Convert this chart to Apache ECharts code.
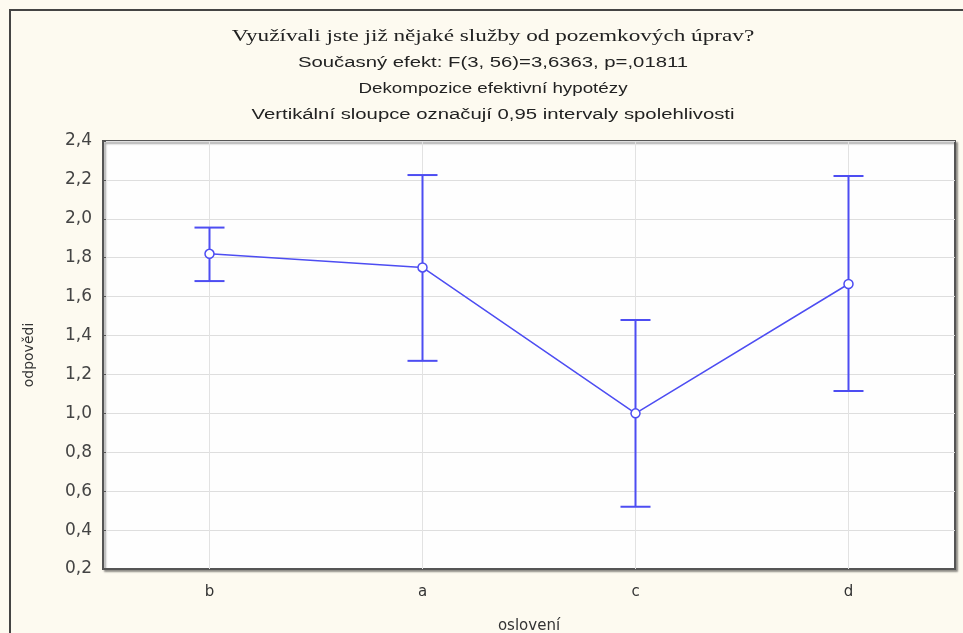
<!DOCTYPE html>
<html>
<head>
    <meta charset="utf-8">
    <title>ECharts</title>
    <script src="https://cdn.jsdelivr.net/npm/echarts@6/dist/echarts.min.js"></script>
    <style>
        html, body { margin: 0; padding: 0; background: #fdfaf0; }
    </style>
</head>
<body>
<div id="main" style="width: 963px;height:633px;"></div>
<script type="text/javascript">
    // data
    var categories = ['b', 'a', 'c', 'd'];
    var means = [1.82, 1.75, 1.00, 1.665];
    var lower = [1.68, 1.27, 0.52, 1.115];
    var upper = [1.955, 2.225, 1.48, 2.22];
    var yTicks = [0.2, 0.4, 0.6, 0.8, 1.0, 1.2, 1.4, 1.6, 1.8, 2.0, 2.2, 2.4];
    var titleLines = [
        'Využívali jste již nějaké služby od pozemkových úprav?',
        'Současný efekt: F(3, 56)=3,6363, p=,01811',
        'Dekompozice efektivní hypotézy',
        'Vertikální sloupce označují 0,95 intervaly spolehlivosti'
    ];

    var blue = '#4d4df2';
    var sans = 'Liberation Sans, Arial, sans-serif';
    var wide = 'DejaVu Sans, Verdana, sans-serif';

    var errData = categories.map(function (c, i) {
        return [i, lower[i], upper[i]];
    });

    // the original text is drawn a bit stretched sideways, so scale the titles
    var titleY = [37, 63, 89, 115];
    var titles = titleLines.map(function (t, i) {
        return {
            type: 'text',
            x: 493,
            y: titleY[i],
            scaleX: i === 2 ? 1.34 : 1.45,
            style: {
                text: t,
                align: 'center',
                verticalAlign: 'middle',
                fill: '#222',
                font: i === 0 ? '16px Liberation Serif, Times New Roman, serif' : '14px ' + sans
            }
        };
    });

    var myChart = echarts.init(document.getElementById('main'));

    var option = {
        backgroundColor: '#fdfaf0',
        animation: false,
        graphic: [{
            type: 'rect',
            z: -10,
            shape: { x: 10, y: 10, width: 1000, height: 700 },
            style: { fill: '#fdfaf0', stroke: '#444', lineWidth: 2 }
        }].concat(titles),
        grid: {
            left: 103, right: 8, top: 141, bottom: 64,
            outerBoundsMode: 'none',
            containLabel: false,
            show: true,
            backgroundColor: '#fefefe',
            borderColor: '#555',
            borderWidth: 2,
            shadowColor: 'rgba(0,0,0,0.35)',
            shadowOffsetX: 2,
            shadowOffsetY: 2,
            shadowBlur: 2
        },
        xAxis: {
            type: 'category',
            data: categories,
            name: 'oslovení',
            nameLocation: 'middle',
            nameGap: 50,
            nameTextStyle: { fontFamily: wide, fontSize: 15, color: '#333' },
            axisLine: { lineStyle: { color: '#555', width: 2 } },
            axisTick: { alignWithLabel: true, inside: true, length: 3, lineStyle: { color: '#555' } },
            axisLabel: { fontFamily: wide, fontSize: 15, color: '#333', margin: 16 },
            splitLine: { show: false }
        },
        yAxis: {
            type: 'value',
            min: yTicks[0],
            max: yTicks[yTicks.length - 1],
            interval: 0.2,
            name: 'odpovědi',
            nameLocation: 'middle',
            nameRotate: 90,
            nameGap: 67,
            nameTextStyle: { fontFamily: wide, fontSize: 14, color: '#333' },
            axisLine: { show: true, lineStyle: { color: '#555', width: 2 } },
            axisTick: { show: true, inside: true, length: 3, lineStyle: { color: '#555' } },
            axisLabel: {
                fontFamily: wide, fontSize: 17, color: '#444', margin: 11,
                formatter: function (v) { return v.toFixed(1).replace('.', ','); }
            },
            splitLine: { lineStyle: { color: '#dedede', width: 1 } }
        },
        series: [
            {
                name: 'interval',
                type: 'custom',
                z: 3,
                data: errData,
                renderItem: function (params, api) {
                    var x = api.value(0);
                    var lo = api.coord([x, api.value(1)]);
                    var hi = api.coord([x, api.value(2)]);
                    var cap = 15;
                    var st = { stroke: blue, lineWidth: 2 };
                    return {
                        type: 'group',
                        children: [
                            { type: 'line', shape: { x1: hi[0], y1: hi[1], x2: lo[0], y2: lo[1] }, style: st },
                            { type: 'line', shape: { x1: hi[0] - cap, y1: hi[1], x2: hi[0] + cap, y2: hi[1] }, style: st },
                            { type: 'line', shape: { x1: lo[0] - cap, y1: lo[1], x2: lo[0] + cap, y2: lo[1] }, style: st }
                        ]
                    };
                }
            },
            {
                name: 'mean',
                type: 'line',
                z: 4,
                data: means,
                symbol: 'circle',
                symbolSize: 9,
                itemStyle: { color: '#fff', borderColor: blue, borderWidth: 1.5 },
                lineStyle: { color: blue, width: 1.5 },
                markLine: {
                    silent: true,
                    symbol: 'none',
                    label: { show: false },
                    lineStyle: { color: '#e2e2e2', type: 'solid', width: 1 },
                    z: 1,
                    data: categories.map(function (c) { return { xAxis: c }; })
                }
            }
        ]
    };

    myChart.setOption(option);
</script>
</body>
</html>
